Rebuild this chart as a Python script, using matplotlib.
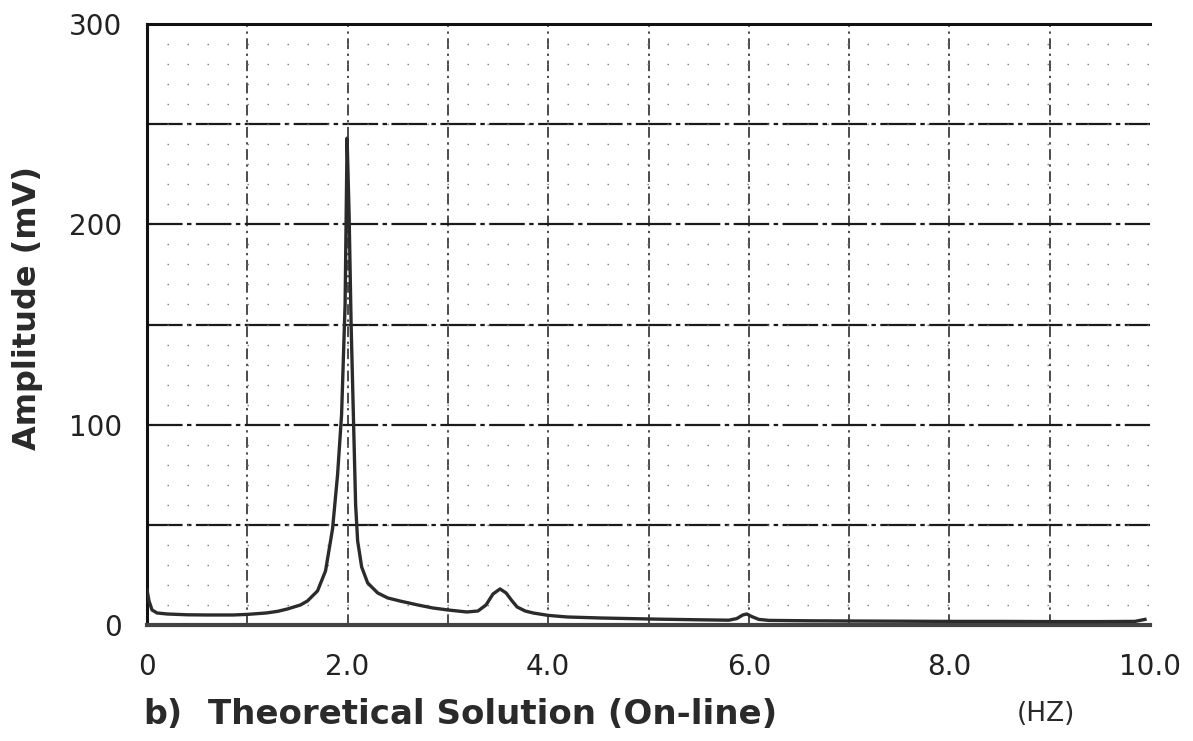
import matplotlib
matplotlib.use("Agg")
import matplotlib.pyplot as plt
from matplotlib.ticker import MultipleLocator

# spectrum (Hz, mV)
freq = [0.0, 0.02, 0.05, 0.1, 0.2, 0.4, 0.6, 0.86, 1.0, 1.19, 1.3, 1.4, 1.53, 1.6, 1.7,
        1.78, 1.85, 1.9, 1.94, 1.975, 1.995, 2.015, 2.035, 2.06, 2.08, 2.1, 2.14, 2.2, 2.3,
        2.4, 2.52, 2.7, 2.85, 3.0, 3.19, 3.3, 3.38, 3.45, 3.52, 3.58, 3.64, 3.69, 3.77, 3.85,
        4.0, 4.19, 4.52, 5.0, 5.5, 5.8, 5.88, 5.94, 5.98, 6.03, 6.1, 6.2, 6.6, 7.0, 7.5,
        8.0, 8.5, 9.0, 9.5, 9.85, 9.95]
amp = [17.5, 12.0, 7.5, 6.0, 5.5, 5.1, 5.0, 5.0, 5.3, 6.0, 6.8, 8.0, 10.0, 12.0, 17.0,
       27.0, 48.0, 75.0, 105.0, 160.0, 243.0, 205.0, 150.0, 100.0, 60.0, 42.0, 29.0, 21.0, 16.0,
       13.5, 12.0, 10.0, 8.5, 7.5, 6.5, 7.0, 10.0, 15.5, 18.0, 16.0, 12.0, 9.0, 7.0, 6.0,
       4.8, 4.0, 3.5, 3.0, 2.6, 2.4, 3.2, 5.0, 5.5, 4.2, 2.8, 2.3, 2.1, 2.0, 1.9,
       1.8, 1.8, 1.7, 1.7, 1.8, 2.8]

xticks = [0, 2, 4, 6, 8, 10]
xlabels = ["0", "2.0", "4.0", "6.0", "8.0", "10.0"]
yticks = [0, 100, 200, 300]
ylabels = ["0", "100", "200", "300"]

fig = plt.figure(figsize=(11.93, 7.41), dpi=100)
ax = fig.add_axes([147 / 1193, 116 / 741, 1003 / 1193, 601 / 741])

ax.plot(freq, amp, color="#2b2b2b", lw=2.4, solid_joinstyle="round", zorder=3)

ax.set_xlim(0, 10)
ax.set_ylim(0, 300)
ax.set_xticks(xticks)
ax.set_xticklabels(xlabels)
ax.set_yticks(yticks)
ax.set_yticklabels(ylabels)
ax.tick_params(length=0, labelsize=20, colors="#222222")
ax.tick_params(axis="x", pad=20)
ax.tick_params(axis="y", pad=18)

# grid like the paper chart: dash-dot lines every 50 mV / 1 Hz, dots in between
for v in [50, 100, 150, 200, 250]:
    ax.axhline(v, color="#1a1a1a", lw=1.6, ls=(0, (16, 2, 2, 2)), zorder=1)
for v in range(1, 10):
    ax.axvline(v, color="#1a1a1a", lw=1.1, ls=(0, (7, 3, 1.5, 3)), zorder=1)
ax.yaxis.set_minor_locator(MultipleLocator(10))
ax.yaxis.grid(True, which="minor", color="#777777", lw=1.0, ls=(0, (1, 13.4)))
ax.tick_params(which="minor", length=0)

for s in ["left", "top"]:
    ax.spines[s].set_linewidth(2.2)
    ax.spines[s].set_color("#111111")
ax.spines["bottom"].set_linewidth(3)
ax.spines["bottom"].set_color("#444444")
ax.spines["right"].set_visible(False)

fig.text(28 / 1193, 1 - 308 / 741, "Amplitude (mV)", rotation=90, ha="center", va="center",
         fontsize=23, fontweight="bold", color="#2a2a2a")
fig.text(143 / 1193, 1 - 714 / 741, "b)", ha="left", va="center",
         fontsize=24, fontweight="bold", color="#2a2a2a")
fig.text(208 / 1193, 1 - 714 / 741, "Theoretical Solution (On-line)", ha="left", va="center",
         fontsize=24.5, fontweight="bold", color="#2a2a2a")
fig.text(1046 / 1193, 1 - 714 / 741, "(HZ)", ha="center", va="center",
         fontsize=19, color="#2a2a2a")

fig.savefig("out.png", dpi=100)
